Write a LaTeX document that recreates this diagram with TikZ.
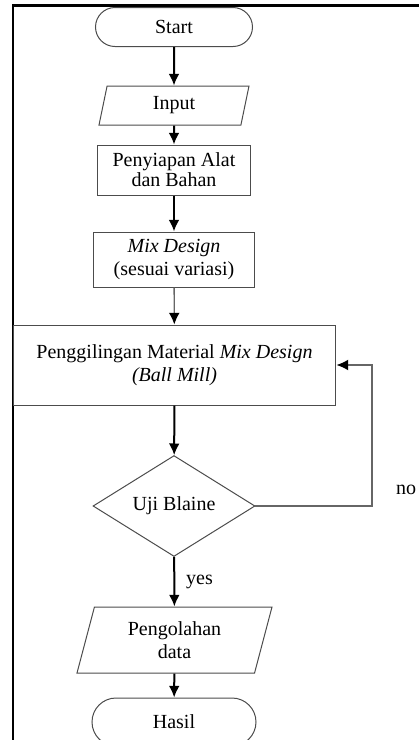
\documentclass[tikz,border=0pt]{standalone}
\usepackage{fontspec}
\setmainfont{Liberation Serif}
\usetikzlibrary{shapes.geometric,shapes.misc,arrows.meta}

\begin{document}
\begin{tikzpicture}[x=0.6pt,y=-0.6pt,>={Latex[length=7pt,width=6.5pt]},
    every node/.style={font=\fontsize{12}{14}\selectfont,align=center,inner sep=0pt},
    term/.style={draw=black!70,line width=0.6pt,rounded rectangle},
    io/.style={draw=black!70,line width=0.6pt,trapezium,trapezium left angle=65,trapezium right angle=115,trapezium stretches body=true},
    proc/.style={draw=black!70,line width=0.6pt,rectangle},
    dec/.style={draw=black!70,line width=0.6pt,diamond},
    flow/.style={->,line width=1.2pt},
    thin flow/.style={-{Latex[length=7pt,width=6.5pt,color=black]},draw=black!60,line width=0.8pt}]
                \useasboundingbox (0,0) rectangle (418,740);
                % frame
                \coordinate (fA) at (13,745);
                \coordinate (fB) at (13,5.3);
                \coordinate (fC) at (420,5.3);
                \draw[line width=1.6pt] (fA) -- (fB) -- (fC);
                % nodes
                \node[term,minimum width=94.2pt,minimum height=23.4pt] (start) at (174,27) {Start};
                \node[io,minimum width=90pt,minimum height=23.4pt] (input) at (174,105.5) {Input};
                \node[proc,minimum width=91.8pt,minimum height=30pt] (siap) at (174,170) {Penyiapan Alat\\[-2pt]dan Bahan};
                \node[proc,minimum width=97.2pt,minimum height=33pt] (mix) at (174,259.5) {\textit{Mix Design}\\(sesuai variasi)};
                \node[proc,minimum width=193.8pt,minimum height=48pt] (mill) at (174.5,365) {Penggilingan Material \textit{Mix Design}\\\textit{(Ball Mill)}};
                \node[dec,minimum width=97.2pt,minimum height=46.8pt] (uji) at (174,506) {Uji Blaine};
                \node[io,minimum width=117pt,minimum height=39.6pt] (olah) at (174.5,640) {Pengolahan\\data};
                \node[term,minimum width=98.4pt,minimum height=28.8pt] (hasil) at (174,722) {Hasil};
                \coordinate (loop) at (372,506);
                \node (no) at (406,490) {no};
                % connectors
                \draw[flow] (start) -- (input);
                \draw[flow] (input) -- (siap);
                \draw[flow] (siap) -- (mix);
                \draw[thin flow] (mix) -- (mill);
                \draw[flow] (mill) -- (uji);
                \draw[flow] (uji) -- node[right=6.5pt] {yes} (olah);
                \draw[flow] (olah) -- (hasil);
                \draw[thin flow] (uji.east) -- (loop) |- (mill.east);
\end{tikzpicture}
\end{document}
